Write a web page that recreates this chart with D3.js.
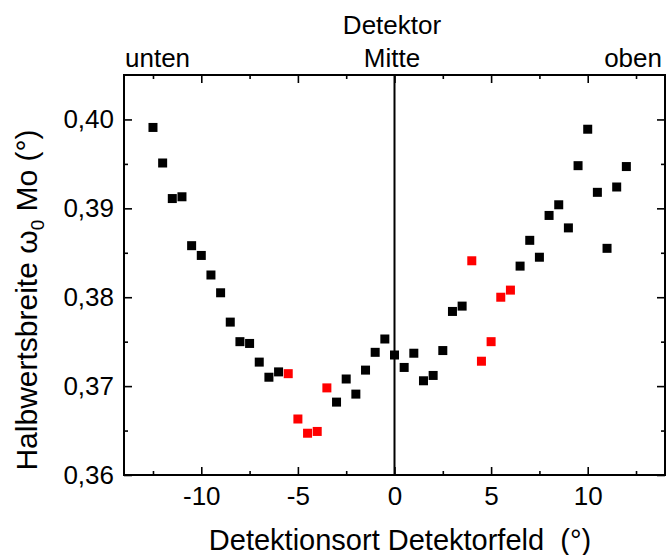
<!DOCTYPE html>
<html>
<head>
<meta charset="utf-8">
<script src="https://cdn.jsdelivr.net/npm/d3@7"></script>
<style>
  html, body { margin: 0; padding: 0; background: #fff; }
  svg { display: block; }
  text { font-family: "Liberation Sans", Arial, sans-serif; fill: #000; }
</style>
</head>
<body>
<svg id="chart" width="666" height="555"></svg>
<script>
// Black series: detector positions (°) and FWHM ω0 of Mo (°)
const blackX = [-12.5, -12, -11.5, -11, -10.5, -10, -9.5, -9, -8.5, -8, -7.5, -7, -6.5, -6,
                -3, -2.5, -2, -1.5, -1, -0.5, 0, 0.5, 1, 1.5, 2, 2.5, 3, 3.5,
                6.5, 7, 7.5, 8, 8.5, 9, 9.5, 10, 10.5, 11, 11.5, 12];
const blackY = [0.3991, 0.3951, 0.3911, 0.3913, 0.3858, 0.3847, 0.3825, 0.3805, 0.3772, 0.3750, 0.3748, 0.3727, 0.3710, 0.3716,
                0.3682, 0.3708, 0.3691, 0.3718, 0.3738, 0.3753, 0.3735, 0.3721, 0.3737, 0.3706, 0.3712, 0.3740, 0.3784, 0.3790,
                0.3835, 0.3864, 0.3845, 0.3892, 0.3904, 0.3878, 0.3948, 0.3989, 0.3918, 0.3855, 0.3924, 0.3947];

// Red series
const redX = [-5.5, -5, -4.5, -4, -3.5, 4, 4.5, 5, 5.5, 6];
const redY = [0.3714, 0.3663, 0.3647, 0.3649, 0.3698, 0.3841, 0.3728, 0.3750, 0.3800, 0.3808];

// Axis ticks
const xMajor = [-10, -5, 0, 5, 10];
const xMinor = [-12.5, -7.5, -2.5, 2.5, 7.5, 12.5];
const yMajor = [0.36, 0.37, 0.38, 0.39, 0.40];
const yMinor = [0.365, 0.375, 0.385, 0.395];
const yTickLabels = ["0,36", "0,37", "0,38", "0,39", "0,40"];

const svg = d3.select("#chart");
const plotL = 124, plotR = 665, plotT = 75, plotB = 475;

const x = d3.scaleLinear().domain([-14, 14]).range([plotL, plotR]);
const y = d3.scaleLinear().domain([0.36, 0.405]).range([plotB, plotT]);

const majorLen = 8, minorLen = 4;

// Bottom axis (ticks inward)
const gB = svg.append("g").attr("transform", `translate(0,${plotB})`)
  .call(d3.axisBottom(x).tickValues(xMajor).tickSizeInner(-majorLen).tickSizeOuter(0).tickPadding(12)
        .tickFormat(d => String(d)));
gB.selectAll(".tick text").attr("font-size", 26).attr("dy", "0.71em")
  .attr("font-family", "Liberation Sans, Arial, sans-serif");
gB.select(".domain").remove();
svg.append("g").attr("transform", `translate(0,${plotB})`)
  .call(d3.axisBottom(x).tickValues(xMinor).tickSizeInner(-minorLen).tickSizeOuter(0).tickFormat(""))
  .select(".domain").remove();

// Top axis (ticks inward, no labels)
svg.append("g").attr("transform", `translate(0,${plotT})`)
  .call(d3.axisTop(x).tickValues(xMajor).tickSizeInner(-majorLen).tickSizeOuter(0).tickFormat(""))
  .select(".domain").remove();
svg.append("g").attr("transform", `translate(0,${plotT})`)
  .call(d3.axisTop(x).tickValues(xMinor).tickSizeInner(-minorLen).tickSizeOuter(0).tickFormat(""))
  .select(".domain").remove();

// Left axis
const gL = svg.append("g").attr("transform", `translate(${plotL},0)`)
  .call(d3.axisLeft(y).tickValues(yMajor).tickSizeInner(-majorLen).tickSizeOuter(0).tickPadding(10)
        .tickFormat((d, i) => yTickLabels[i]));
gL.selectAll(".tick text").attr("font-size", 26).attr("font-family", "Liberation Sans, Arial, sans-serif");
gL.select(".domain").remove();
svg.append("g").attr("transform", `translate(${plotL},0)`)
  .call(d3.axisLeft(y).tickValues(yMinor).tickSizeInner(-minorLen).tickSizeOuter(0).tickFormat(""))
  .select(".domain").remove();

// Right axis
svg.append("g").attr("transform", `translate(${plotR},0)`)
  .call(d3.axisRight(y).tickValues(yMajor).tickSizeInner(-majorLen).tickSizeOuter(0).tickFormat(""))
  .select(".domain").remove();
svg.append("g").attr("transform", `translate(${plotR},0)`)
  .call(d3.axisRight(y).tickValues(yMinor).tickSizeInner(-minorLen).tickSizeOuter(0).tickFormat(""))
  .select(".domain").remove();

svg.selectAll(".tick line").attr("stroke", "#000").attr("stroke-width", 1.6);

// Frame
svg.append("rect").attr("x", plotL).attr("y", plotT)
  .attr("width", plotR - plotL).attr("height", plotB - plotT)
  .attr("fill", "none").attr("stroke", "#000").attr("stroke-width", 2);

// Detector centre line
svg.append("line").attr("x1", x(0)).attr("x2", x(0)).attr("y1", plotT).attr("y2", plotB)
  .attr("stroke", "#000").attr("stroke-width", 2);

// Markers
const size = 9;
function drawSquares(xs, ys, color) {
  svg.append("g").selectAll("rect").data(xs.map((v, i) => [v, ys[i]])).join("rect")
    .attr("x", d => x(d[0]) - size / 2).attr("y", d => y(d[1]) - size / 2)
    .attr("width", size).attr("height", size).attr("fill", color);
}
drawSquares(blackX, blackY, "#000");
drawSquares(redX, redY, "#ff0000");

// Labels along the top
svg.append("text").attr("x", 392).attr("y", 34).attr("text-anchor", "middle").attr("font-size", 26).text("Detektor");
svg.append("text").attr("x", 392).attr("y", 67).attr("text-anchor", "middle").attr("font-size", 26).text("Mitte");
svg.append("text").attr("x", 125).attr("y", 67).attr("text-anchor", "start").attr("font-size", 26).text("unten");
svg.append("text").attr("x", 662).attr("y", 67).attr("text-anchor", "end").attr("font-size", 26).text("oben");

// Axis titles
svg.append("text").attr("x", 400).attr("y", 550).attr("text-anchor", "middle").attr("font-size", 29)
  .attr("xml:space", "preserve").text("Detektionsort Detektorfeld  (°)");

const yt = svg.append("text").attr("transform", "translate(37,300) rotate(-90)")
  .attr("text-anchor", "middle").attr("font-size", 30);
yt.append("tspan").text("Halbwertsbreite ω");
yt.append("tspan").attr("font-size", 19).attr("dy", 7).text("0");
yt.append("tspan").attr("dy", -7).text(" Mo (°)");
</script>
</body>
</html>
